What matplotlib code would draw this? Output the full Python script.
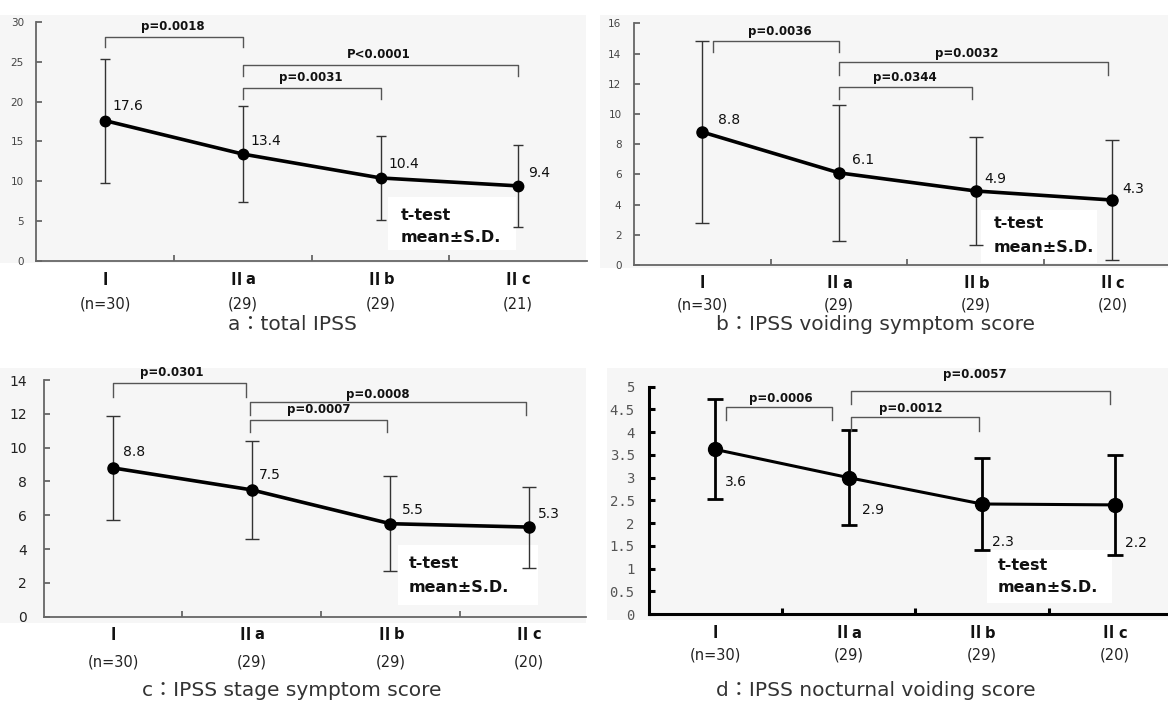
import matplotlib
matplotlib.use("Agg")
import matplotlib.pyplot as plt
from matplotlib.patches import Rectangle
from matplotlib.transforms import Affine2D
from matplotlib.ticker import FuncFormatter

W, H, DPI = 1168, 706, 100
PT = 72.0 / DPI  # points per pixel

# ---------------- data ----------------
stages = ["Ⅰ", "Ⅱ", "Ⅱ", "Ⅱ"]
substages = ["", "a", "b", "c"]
n_a = ["(n=30)", "(29)", "(29)", "(21)"]
n_bcd = ["(n=30)", "(29)", "(29)", "(20)"]

mean_a = [17.6, 13.4, 10.4, 9.4]
sd_a = [7.8, 6.0, 5.3, 5.2]
lab_a = ["17.6", "13.4", "10.4", "9.4"]
p_a = ["p=0.0018", "P<0.0001", "p=0.0031"]

mean_b = [8.8, 6.1, 4.9, 4.3]
sd_b = [6.0, 4.5, 3.6, 3.95]
lab_b = ["8.8", "6.1", "4.9", "4.3"]
p_b = ["p=0.0036", "p=0.0032", "p=0.0344"]

mean_c = [8.8, 7.5, 5.5, 5.3]
sd_c = [3.1, 2.9, 2.8, 2.4]
lab_c = ["8.8", "7.5", "5.5", "5.3"]
p_c = ["p=0.0301", "p=0.0008", "p=0.0007"]

mean_d = [3.62, 3.0, 2.42, 2.40]
sd_d = [1.1, 1.05, 1.02, 1.1]
lab_d = ["3.6", "2.9", "2.3", "2.2"]
p_d = ["p=0.0006", "p=0.0057", "p=0.0012"]

titles = ["a：total IPSS", "b：IPSS voiding symptom score",
          "c：IPSS stage symptom score", "d：IPSS nocturnal voiding score"]

# ---------------- layout / annotation geometry ----------------
panels = [
    dict(mean=mean_a, sd=sd_a, lab=lab_a, p=p_a, n=n_a, title=titles[0],
         rect=(36.3, 22.0, 550.8, 238.7), xmax=3.5, ylim=30, ystep=5,
         bg=(0, 15, 586, 248), title_xy=(292, 325),
         ytick_font=dict(family="DejaVu Sans", size=7.5, color="#444"), ypad=9,
         spine_c="#666", spine_w=1.3, line_w=2.6, ms=7.5, ecol="#333", ew=1.0, cap=3.8, capw=1.0,
         lab_off=[(7, -15), (7.5, -13.3), (7.7, -13.6), (9.6, -13.2)],
         brackets=[(0.0, 1.0, 28.1, 26.8), (1.0, 3.0, 24.6, 23.2), (1.0, 2.0, 21.7, 20.3)],
         ptext=[(0.49, 29.4), (1.99, 25.9), (1.49, 23.0)],
         box=(388, 197, 128, 53), tt=(401, 215, 237), cat_dy=(19, 43)),
    dict(mean=mean_b, sd=sd_b, lab=lab_b, p=p_b, n=n_bcd, title=titles[1],
         rect=(634.0, 23.3, 546.8, 241.7), xmax=3.5, ylim=16, ystep=2,
         bg=(600, 15, 568, 253), title_xy=(876, 325),
         ytick_font=dict(family="DejaVu Sans", size=7.5, color="#444"), ypad=9,
         spine_c="#666", spine_w=1.3, line_w=2.6, ms=8, ecol="#333", ew=1.0, cap=5, capw=1.0,
         lab_off=[(16, -12), (12.7, -13), (8.5, -12), (10, -11)],
         brackets=[(0.08, 1.0, 14.83, 14.08), (1.0, 2.97, 13.44, 12.58), (1.0, 1.97, 11.8, 10.99)],
         ptext=[(0.564, 15.45), (1.936, 13.97), (1.48, 12.4)],
         box=(981, 210, 116, 53), tt=(994, 224, 247), cat_dy=(18, 40)),
    dict(mean=mean_c, sd=sd_c, lab=lab_c, p=p_c, n=n_bcd, title=titles[2],
         rect=(43.7, 380.0, 542.3, 236.7), xmax=3.41, ylim=14, ystep=2,
         bg=(0, 368, 586, 255), title_xy=(292, 690),
         ytick_font=dict(family="DejaVu Sans", size=10, color="#222"), ypad=12,
         spine_c="#666", spine_w=1.3, line_w=2.6, ms=8, ecol="#333", ew=1.0, cap=5, capw=1.0,
         lab_off=[(10, -15.6), (7.4, -15), (11.7, -13.7), (9, -13)],
         brackets=[(0.0, 0.96, 13.8, 13.0), (0.985, 2.98, 12.72, 11.93), (0.985, 1.975, 11.64, 10.95)],
         ptext=[(0.425, 14.42), (1.91, 13.16), (1.48, 12.23)],
         box=(398, 545, 140, 60), tt=(409, 563, 588), cat_dy=(18, 45)),
    dict(mean=mean_d, sd=sd_d, lab=lab_d, p=p_d, n=n_bcd, title=titles[3],
         rect=(648.6, 386.7, 533.2, 227.3), xmax=3.5, ylim=5, ystep=0.5,
         bg=(607, 368, 561, 252), title_xy=(876, 690),
         ytick_font=dict(family="DejaVu Sans Mono", size=10, color="#555"), ypad=10,
         spine_c="black", spine_w=2.2, line_w=2.2, ms=10, ecol="black", ew=2.0, cap=6, capw=2.0,
         lab_off=[(10, 33), (13, 32), (10, 38), (10, 38)],
         brackets=[(0.077, 0.876, 4.56, 4.27), (1.016, 2.96, 4.9, 4.63), (1.016, 1.98, 4.34, 4.03)],
         ptext=[(0.489, 4.75), (1.947, 5.27), (1.468, 4.52)],
         box=(987, 550, 125, 53), tt=(998, 566, 588), cat_dy=(19, 41)),
]

fig = plt.figure(figsize=(W / DPI, H / DPI), dpi=DPI)
fig.patch.set_facecolor("white")
PX = Affine2D().scale(1.0 / W, -1.0 / H).translate(0, 1) + fig.transFigure

SANS = ["DejaVu Sans", "Noto Sans CJK JP"]
x = list(range(4))

for P in panels:
    l, t, w, h = P["rect"]
    ax = fig.add_axes([l / W, 1 - (t + h) / H, w / W, h / H])
    ax.set_facecolor("none")

    bx, by, bw, bh = P["bg"]
    fig.patches.append(Rectangle((bx, by), bw, bh, transform=PX, fc="#f6f6f6",
                                 ec="none", zorder=-5))

    ax.set_xlim(-0.5, P["xmax"])
    ax.set_ylim(0, P["ylim"])
    for s in ["top", "right"]:
        ax.spines[s].set_visible(False)
    for s in ["left", "bottom"]:
        ax.spines[s].set_color(P["spine_c"])
        ax.spines[s].set_linewidth(P["spine_w"])

    # y ticks
    yt = [i * P["ystep"] for i in range(int(round(P["ylim"] / P["ystep"])) + 1)]
    ax.set_yticks(yt)
    ax.yaxis.set_major_formatter(FuncFormatter(lambda v, pos: ("%g" % v)))
    ax.tick_params(axis="y", direction="in", length=4, width=P["spine_w"],
                   color=P["spine_c"], pad=P["ypad"])
    for lbl in ax.get_yticklabels():
        lbl.set_fontfamily(P["ytick_font"]["family"])
        lbl.set_fontsize(P["ytick_font"]["size"])
        lbl.set_color(P["ytick_font"]["color"])

    # x ticks: inward separators between categories
    ax.set_xticks(x)
    ax.set_xticklabels([])
    ax.tick_params(axis="x", which="major", length=0)
    ax.set_xticks([0.5, 1.5, 2.5], minor=True)
    ax.tick_params(axis="x", which="minor", direction="in", length=4,
                   width=P["spine_w"], color=P["spine_c"])

    # category labels
    xt = ax.get_xaxis_transform()
    d1, d2 = P["cat_dy"]
    for i in x:
        if substages[i]:
            ax.annotate(stages[i], xy=(i, 0), xycoords=xt, xytext=(2 * PT, -d1 * PT),
                        textcoords="offset points", ha="right", va="center",
                        fontsize=12.5, fontweight="bold", family="Noto Sans CJK JP",
                        color="#111", annotation_clip=False)
            ax.annotate(substages[i], xy=(i, 0), xycoords=xt, xytext=(3 * PT, -d1 * PT),
                        textcoords="offset points", ha="left", va="center",
                        fontsize=10.5, fontweight="bold", family="DejaVu Sans",
                        color="#111", annotation_clip=False)
        else:
            ax.annotate(stages[i], xy=(i, 0), xycoords=xt, xytext=(0, -d1 * PT),
                        textcoords="offset points", ha="center", va="center",
                        fontsize=12.5, fontweight="bold", family="Noto Sans CJK JP",
                        color="#111", annotation_clip=False)
        ax.annotate(P["n"][i], xy=(i, 0), xycoords=xt, xytext=(0, -d2 * PT),
                    textcoords="offset points", ha="center", va="center",
                    fontsize=10.5, family="DejaVu Sans", color="#222",
                    annotation_clip=False)

    # white legend box + text
    rx, ry, rw, rh = P["box"]
    ax.add_patch(Rectangle((rx, ry), rw, rh, transform=PX, fc="white", ec="none", zorder=1.2))
    tx, ty1, ty2 = P["tt"]
    ax.text(tx, ty1, "t-test", transform=PX, ha="left", va="center", fontsize=11.5,
            fontweight="bold", family="DejaVu Sans", color="#111", zorder=4)
    ax.text(tx, ty2, "mean±S.D.", transform=PX, ha="left", va="center", fontsize=11.5,
            fontweight="bold", family="DejaVu Sans", color="#111", zorder=4)

    # error bars and mean line
    ax.errorbar(x, P["mean"], yerr=P["sd"], fmt="none", ecolor=P["ecol"],
                elinewidth=P["ew"], capsize=P["cap"], capthick=P["capw"], zorder=2)
    ax.plot(x, P["mean"], "-o", color="black", lw=P["line_w"], ms=P["ms"], zorder=3)

    # value labels
    for i in x:
        dx, dy = P["lab_off"][i]
        ax.annotate(P["lab"][i], xy=(i, P["mean"][i]), xytext=(dx * PT, -dy * PT),
                    textcoords="offset points", ha="left", va="center",
                    fontsize=10, family="DejaVu Sans", color="#111", zorder=4)

    # significance brackets
    for (x1, x2, ytop, ytip), (px_, py_), txt in zip(P["brackets"], P["ptext"], P["p"]):
        ax.plot([x1, x1, x2, x2], [ytip, ytop, ytop, ytip], color="#555", lw=1.0,
                clip_on=False, zorder=2)
        ax.text(px_, py_, txt, ha="center", va="center", fontsize=8.5, fontweight="bold",
                family="DejaVu Sans", color="#111", clip_on=False, zorder=4)

    # panel caption
    fig.text(P["title_xy"][0] / W, 1 - P["title_xy"][1] / H, P["title"], ha="center",
             va="center", fontsize=14.5, family=SANS, color="#333")

fig.savefig("out.png", dpi=DPI, facecolor="white")
